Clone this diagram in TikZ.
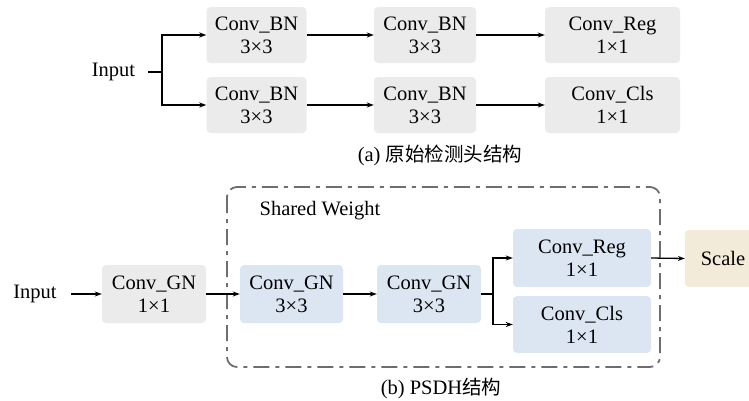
\documentclass[tikz,border=0pt]{standalone}
\usepackage{fontspec}
\newfontfamily\tnr{Liberation Serif}
\newfontfamily\cjk{Noto Sans CJK SC}
\usetikzlibrary{arrows.meta}
\definecolor{boxgray}{HTML}{EBEBEB}
\definecolor{boxblue}{HTML}{DCE6F3}
\definecolor{boxbeige}{HTML}{F3EBDA}
\definecolor{dashgray}{HTML}{6E6E6E}
\tikzset{
  blk/.style={rounded corners=4pt, inner sep=0pt, align=center, font=\tnr\fontsize{20.5}{23}\selectfont},
  graybox/.style={blk, fill=boxgray},
  bluebox/.style={blk, fill=boxblue},
  beigebox/.style={blk, fill=boxbeige},
  lbl/.style={inner sep=0pt, font=\tnr\fontsize{20.5}{23}\selectfont},
  arr/.style={line width=1.3pt, -{Stealth[length=7pt,width=5pt]}},
  ln/.style={line width=1.3pt},
  dashbox/.style={draw=dashgray, line width=1.8pt, rounded corners=10pt, dash pattern=on 16pt off 6pt on 4pt off 6pt}
}
\begin{document}
\begin{tikzpicture}[x=1pt,y=-1pt]
\useasboundingbox (0,0) rectangle (749,400);
\clip (0,0) rectangle (749,400);
% ---------- (a) ----------
\node[lbl] (ina) at (113.5,72) {Input};
\node[graybox, minimum width=100pt, minimum height=56pt] (a11) at (256.5,35) {Conv\_BN\\3×3};
\node[graybox, minimum width=102pt, minimum height=56pt] (a12) at (425,35) {Conv\_BN\\3×3};
\node[graybox, minimum width=135pt, minimum height=56pt] (a13) at (612.5,35) {Conv\_Reg\\1×1};
\node[graybox, minimum width=100pt, minimum height=56pt] (a21) at (256.5,105) {Conv\_BN\\3×3};
\node[graybox, minimum width=102pt, minimum height=56pt] (a22) at (425,105) {Conv\_BN\\3×3};
\node[graybox, minimum width=135pt, minimum height=56pt] (a23) at (612.5,105) {Conv\_Cls\\1×1};
\coordinate (sa) at (162,72);
\draw[ln] ([xshift=13pt]ina.east) -- (sa);
\draw[arr] (sa) |- (a11.west);
\draw[arr] (sa) |- (a21.west);
\draw[arr] (a11) -- (a12);
\draw[arr] (a12) -- (a13);
\draw[arr] (a21) -- (a22);
\draw[arr] (a22) -- (a23);
\node[lbl] (capa) at (440,155) {(a) {\cjk\fontsize{19.5}{23}\selectfont 原始检测头结构}};
% ---------- (b) ----------
\draw[dashbox] (227,187) rectangle (660,367);
\node[lbl] (sw) at (320,211) {Shared Weight};
\node[lbl] (inb) at (35,294) {Input};
\node[graybox, minimum width=104pt, minimum height=58pt] (g1) at (154,294) {Conv\_GN\\1×1};
\node[bluebox, minimum width=103pt, minimum height=58pt] (g2) at (291.5,294) {Conv\_GN\\3×3};
\node[bluebox, minimum width=104pt, minimum height=58pt] (g3) at (429,294) {Conv\_GN\\3×3};
\node[bluebox, minimum width=138pt, minimum height=58pt] (reg) at (582,258) {Conv\_Reg\\1×1};
\node[bluebox, minimum width=138pt, minimum height=57pt] (cls) at (582,324.5) {Conv\_Cls\\1×1};
\node[beigebox, minimum width=76pt, minimum height=57pt, text width=76pt] (scale) at (723,258.5) {Scale};
\draw[arr] ([xshift=14pt]inb.east) -- (g1.west);
\draw[arr] (g1) -- (g2);
\draw[arr] (g2) -- (g3);
\coordinate (sb) at (493,294);
\draw[ln] (g3.east) -- (sb);
\draw[arr] (sb) |- (reg.west);
\draw[arr] (sb) |- (cls.west);
\draw[arr] (reg.east) -- (scale.west);
\node[lbl] (capb) at (441,388) {(b) PSDH{\cjk\fontsize{19.5}{23}\selectfont 结构}};
\end{tikzpicture}
\end{document}
